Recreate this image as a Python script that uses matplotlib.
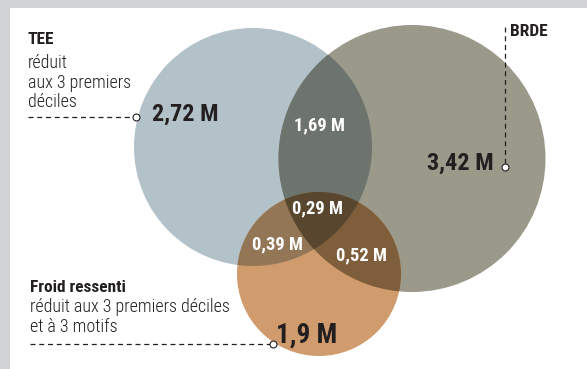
import numpy as np
import matplotlib
matplotlib.use('Agg')
import matplotlib.pyplot as plt
from matplotlib import font_manager
from matplotlib.patches import Circle, Polygon, Rectangle

# --- data -------------------------------------------------------------
sets = ['TEE', 'BRDE', 'Froid ressenti']
set_notes = ['réduit\naux 3 premiers\ndéciles', '', 'réduit aux 3 premiers déciles\net à 3 motifs']
only_values = ['2,72 M', '3,42 M', '1,9 M']
pair_values = {(0, 1): '1,69 M', (0, 2): '0,39 M', (1, 2): '0,52 M'}
all_value = '0,29 M'

# --- layout (pixels, y downwards) --------------------------------------
centers = [(253, 147), (412, 158.5), (319, 274)]
radii = [119, 133.5, 82]
colors = ['#b3c1c9', '#9a998a', '#d09c6d']

avail = {f.name for f in font_manager.fontManager.ttflist}
family = 'DejaVu Sans'
for name in ['Liberation Sans Narrow', 'Roboto Condensed', 'Roboto', 'Liberation Sans']:
    if name in avail:
        family = name
        break
plt.rcParams['font.family'] = [family, 'DejaVu Sans']

W, H = 587, 369
fig = plt.figure(figsize=(W / 100, H / 100), dpi=100)
ax = fig.add_axes([0, 0, 1, 1])
ax.set_xlim(0, W)
ax.set_ylim(H, 0)
ax.axis('off')

# frame
ax.add_patch(Rectangle((0, 0), W, 8, color='#d1d3d4', lw=0))
ax.add_patch(Rectangle((0, 0), 10, H, color='#d1d3d4', lw=0))


def hexrgb(c):
    return np.array(matplotlib.colors.to_rgb(c))


def region(idx):
    # boundary points of the intersection of the given circles
    pts = []
    t = np.linspace(0, 2 * np.pi, 1440, endpoint=False)
    for i in idx:
        cx, cy = centers[i]
        p = np.c_[cx + radii[i] * np.cos(t), cy + radii[i] * np.sin(t)]
        keep = np.ones(len(p), bool)
        for j in idx:
            if j == i:
                continue
            d = np.hypot(p[:, 0] - centers[j][0], p[:, 1] - centers[j][1])
            keep &= d <= radii[j] + 1e-9
        pts.append(p[keep])
    pts = np.vstack(pts)
    m = pts.mean(axis=0)
    order = np.argsort(np.arctan2(pts[:, 1] - m[1], pts[:, 0] - m[0]))
    return pts[order]


# single circles
for (cx, cy), r, c in zip(centers, radii, colors):
    ax.add_patch(Circle((cx, cy), r, color=c, lw=0))

# overlaps with multiplied colours
for pair in pair_values:
    col = hexrgb(colors[pair[0]]) * hexrgb(colors[pair[1]])
    ax.add_patch(Polygon(region(pair), closed=True, color=col, lw=0))
col = hexrgb(colors[0]) * hexrgb(colors[1]) * hexrgb(colors[2])
ax.add_patch(Polygon(region((0, 1, 2)), closed=True, color=col, lw=0))

dark = '#231f20'
big = dict(fontweight='bold', color=dark, va='center')
inner = dict(fontsize=13.3, fontweight='bold', color='white', ha='center', va='center')
note = dict(fontsize=13, fontweight='light', color=dark, va='top', linespacing=1.12)
head = dict(fontsize=12.5, fontweight='bold', color=dark, va='center')

# values
ax.text(152, 114, only_values[0], ha='left', fontsize=17.5, **big)
ax.text(494, 163, only_values[1], ha='right', fontsize=17.5, **big)
ax.text(276, 335, only_values[2], ha='left', fontsize=19.5, **big)
ax.text(319, 125, pair_values[(0, 1)], **inner)
ax.text(277, 244, pair_values[(0, 2)], **inner)
ax.text(362, 255, pair_values[(1, 2)], **inner)
ax.text(318, 208, all_value, **inner)

# set labels
ax.text(28, 40, sets[0], **head)
ax.text(28, 54, set_notes[0], **note)
ax.text(510, 32, sets[1], **head)
ax.text(30, 287, sets[2], **head)
ax.text(30, 298, set_notes[2], **note)

# leader lines
ls = dict(color=dark, lw=0.9, dashes=(4, 3))
mk = dict(marker='o', ms=5, mfc='white', mec=dark, mew=0.8, ls='none')
ax.plot([28, 133], [117, 117], **ls)
ax.plot([136], [117], **mk)
ax.plot([505, 505], [27, 164], **ls)
ax.plot([505], [167], **mk)
ax.plot([30, 270], [344, 344], **ls)
ax.plot([273], [344], **mk)

fig.savefig('out.png', dpi=100)
